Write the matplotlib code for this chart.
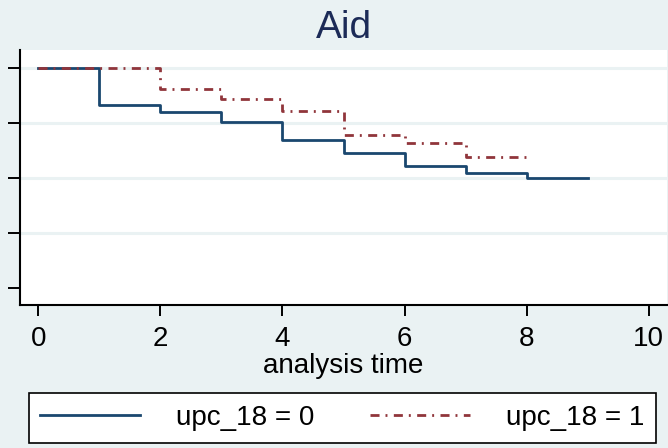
import matplotlib
matplotlib.use("Agg")
import matplotlib.pyplot as plt

# Kaplan-Meier estimates
time_0 = [0, 1, 2, 3, 4, 5, 6, 7, 8, 9]
surv_0 = [1.0, 0.833, 0.799, 0.754, 0.671, 0.614, 0.555, 0.521, 0.501, 0.501]
time_1 = [0, 2, 3, 4, 5, 6, 7, 8]
surv_1 = [1.0, 0.906, 0.858, 0.804, 0.696, 0.658, 0.594, 0.594]
labels = ["upc_18 = 0", "upc_18 = 1"]
x_ticks = [0, 2, 4, 6, 8, 10]
y_ticks = [0, 0.25, 0.5, 0.75, 1.0]

plt.rcParams["font.family"] = ["Liberation Sans", "DejaVu Sans"]
plt.rcParams["lines.scale_dashes"] = False

bg = "#eaf2f3"
navy = "#1a476f"
maroon = "#90353b"

fig = plt.figure(figsize=(6.68, 4.48), dpi=100, facecolor=bg)
ax = fig.add_axes([20 / 668, 143 / 448, 647 / 668, 255 / 448])
ax.set_facecolor("white")

for y in [0.25, 0.5, 0.75, 1.0]:
    ax.axhline(y, color=bg, lw=2.2, zorder=1)

ax.step(time_0, surv_0, where="post", color=navy, lw=2.0, label=labels[0], zorder=3)
ax.step(time_1, surv_1, where="post", color=maroon, lw=2.0,
        linestyle=(0, (6.5, 4.3, 1.4, 4.6)), label=labels[1], zorder=4)

ax.set_xlim(-0.3, 10.3)
ax.set_ylim(-0.079, 1.083)
ax.set_xticks(x_ticks)
ax.set_yticks(y_ticks)
ax.set_yticklabels([])
ax.tick_params(axis="x", direction="out", length=8, width=1.4, labelsize=20, pad=7)
ax.tick_params(axis="y", direction="out", length=9, width=1.4)
for s in ["top", "right"]:
    ax.spines[s].set_visible(False)
for s in ["left", "bottom"]:
    ax.spines[s].set_linewidth(1.5)

ax.set_xlabel("analysis time", fontsize=20, labelpad=1)
ax.set_title("Aid", fontsize=28, color="#1c2b57", pad=9)

leg = fig.legend(loc="center", bbox_to_anchor=(342.5 / 668, 30 / 448), ncol=2,
                 fontsize=20, handlelength=3.6, handletextpad=1.3, columnspacing=2.0,
                 frameon=True, fancybox=False, borderpad=0.42, borderaxespad=0)
leg.get_frame().set_edgecolor("black")
leg.get_frame().set_linewidth(1.2)
leg.get_frame().set_facecolor("white")
leg.get_frame().set_alpha(1)

fig.savefig("out.png", dpi=100, facecolor=bg)
